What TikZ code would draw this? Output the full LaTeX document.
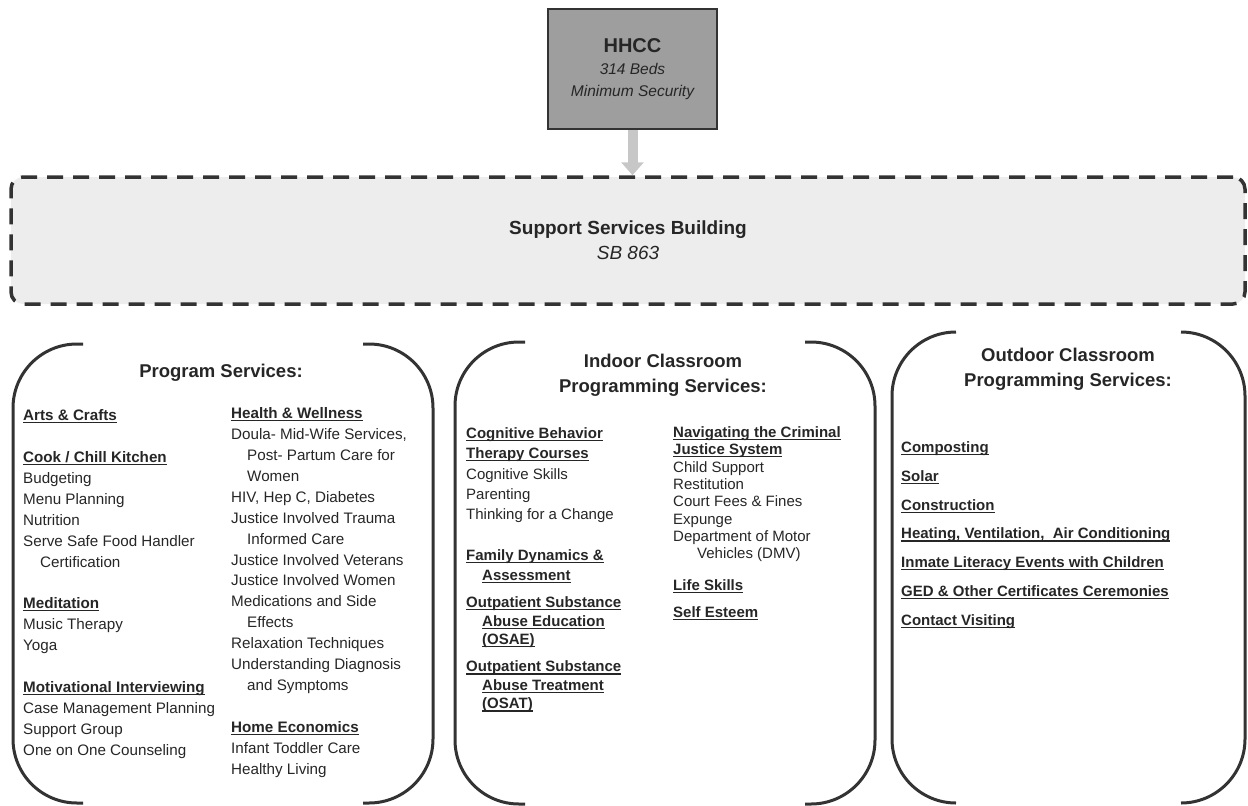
\documentclass[tikz,border=0pt]{standalone}
\usepackage{fontspec}
\setmainfont{Liberation Sans}
\usetikzlibrary{calc}
\usetikzlibrary{positioning}
\usetikzlibrary{arrows.meta}

% bold underlined item heading
\newcommand\ulhead[1]{\setbox0=\hbox{\bfseries #1}\rlap{\rule[-2.6pt]{\wd0}{1.1pt}}\box0}

\begin{document}
\begin{tikzpicture}[x=1pt, y=-1pt,
    every node/.style={inner sep=0pt, text=black!85},
    hhccbox/.style={draw=black!80, line width=2.5pt, fill=black!38,
      minimum width=169pt, minimum height=120pt, align=center,
      font=\fontsize{15.5}{22}\selectfont},
    ssbbox/.style={draw=black!80, line width=3.5pt, dash pattern=on 16pt off 10pt,
      fill=black!7, rounded corners=12pt, minimum width=1234pt, minimum height=127pt,
      align=center, font=\fontsize{19}{25}\selectfont},
    downarrow/.style={line width=10pt, draw=black!22, -{Triangle[length=13pt, width=22pt]}},
    panel/.style={outer sep=0pt},
    bracket/.style={draw=black!80, line width=3pt, rounded corners=64pt},
    title/.style={align=center, font=\fontsize{18.5}{25}\selectfont\bfseries},
    body/.style={anchor=north west, align=left, font=\fontsize{15.2}{20.9}\selectfont}
  ]
  \useasboundingbox (0,0) rectangle (1248,806);

  \node[hhccbox] (hhcc) at (632.5,69) {{\fontsize{20}{24}\selectfont\bfseries HHCC}\\
    \itshape 314 Beds\\ \itshape Minimum Security};
  \node[ssbbox] (ssb) at (628,240.5) {{\bfseries Support Services Building}\\ \itshape SB 863};
  \draw[downarrow] (hhcc.south) -- (hhcc.south |- ssb.north);

  \node[panel, minimum width=420pt, minimum height=459pt] (prog) at (223,573.5) {};
  \node[panel, minimum width=420pt, minimum height=462pt] (indoor) at (665,573) {};
  \node[panel, minimum width=353pt, minimum height=471pt] (outdoor) at (1068.5,567.5) {};
  \foreach \p/\s in {prog/70,indoor/70,outdoor/64} {
    \draw[bracket] ($(\p.north west)+(\s,0)$) -- (\p.north west) -- (\p.south west) -- ($(\p.south west)+(\s,0)$);
    \draw[bracket] ($(\p.north east)-(\s,0)$) -- (\p.north east) -- (\p.south east) -- ($(\p.south east)-(\s,0)$);
  }

  \node[title] (progtitle) at (221,373) {Program Services:};
  \node[title] (indoortitle) at (663,375.5) {Indoor Classroom\\Programming Services:};
  \node[title] (outdoortitle) at (1068,369.5) {Outdoor Classroom\\Programming Services:};

  % program services
  \node[body] (progA) at (23,409.5) {\ulhead{Arts \& Crafts}\\[20.9pt]
    \ulhead{Cook / Chill Kitchen}\\ Budgeting\\ Menu Planning\\ Nutrition\\
    Serve Safe Food Handler\\ \hspace*{17pt}Certification\\[20.9pt]
    \ulhead{Meditation}\\ Music Therapy\\ Yoga\\[20.9pt]
    \ulhead{Motivational Interviewing}\\ Case Management Planning\\ Support Group\\
    One on One Counseling};
  \node[body] (progB) at (231,407.5) {\ulhead{Health \& Wellness}\\
    Doula- Mid-Wife Services,\\ \hspace*{16pt}Post- Partum Care for\\ \hspace*{16pt}Women\\
    HIV, Hep C, Diabetes\\ Justice Involved Trauma\\ \hspace*{16pt}Informed Care\\
    Justice Involved Veterans\\ Justice Involved Women\\ Medications and Side\\
    \hspace*{16pt}Effects\\ Relaxation Techniques\\ Understanding Diagnosis\\
    \hspace*{16pt}and Symptoms\\[20.9pt]
    \ulhead{Home Economics}\\ Infant Toddler Care\\ Healthy Living};

  % indoor classroom
  \node[body, font=\fontsize{15}{20.3}\selectfont] (cbt) at (466,427.5) {\ulhead{Cognitive Behavior}\\
    \ulhead{Therapy Courses}\\ Cognitive Skills\\ Parenting\\ Thinking for a Change\\[20.3pt]
    \ulhead{Family Dynamics \&}\\ \hspace*{16pt}\ulhead{Assessment}};
  \node[body, font=\fontsize{15}{18.5}\selectfont, below=13pt of cbt.south west, anchor=north west] (osae)
    {\ulhead{Outpatient Substance}\\ \hspace*{16pt}\ulhead{Abuse Education}\\ \hspace*{16pt}\ulhead{(OSAE)}};
  \node[body, font=\fontsize{15}{18.5}\selectfont, below=13pt of osae.south west, anchor=north west] (osat)
    {\ulhead{Outpatient Substance}\\ \hspace*{16pt}\ulhead{Abuse Treatment}\\ \hspace*{16pt}\ulhead{(OSAT)}};
  \node[body, font=\fontsize{15}{17.3}\selectfont] (nav) at (673,426.5) {\ulhead{Navigating the Criminal}\\
    \ulhead{Justice System}\\ Child Support\\ Restitution\\ Court Fees \& Fines\\ Expunge\\
    Department of Motor\\ \hspace*{24pt}Vehicles (DMV)};
  \node[body, font=\fontsize{15}{27}\selectfont, below=17.8pt of nav.south west, anchor=north west] (life)
    {\ulhead{Life Skills}\\ \ulhead{Self Esteem}};

  % outdoor classroom
  \node[body, font=\fontsize{15}{28.8}\selectfont] (outA) at (901,441.5) {\ulhead{Composting}\\
    \ulhead{Solar}\\ \ulhead{Construction}\\ \ulhead{Heating, Ventilation,\ \ Air Conditioning}\\
    \ulhead{Inmate Literacy Events with Children}\\ \ulhead{GED \& Other Certificates Ceremonies}\\
    \ulhead{Contact Visiting}};
\end{tikzpicture}
\end{document}
